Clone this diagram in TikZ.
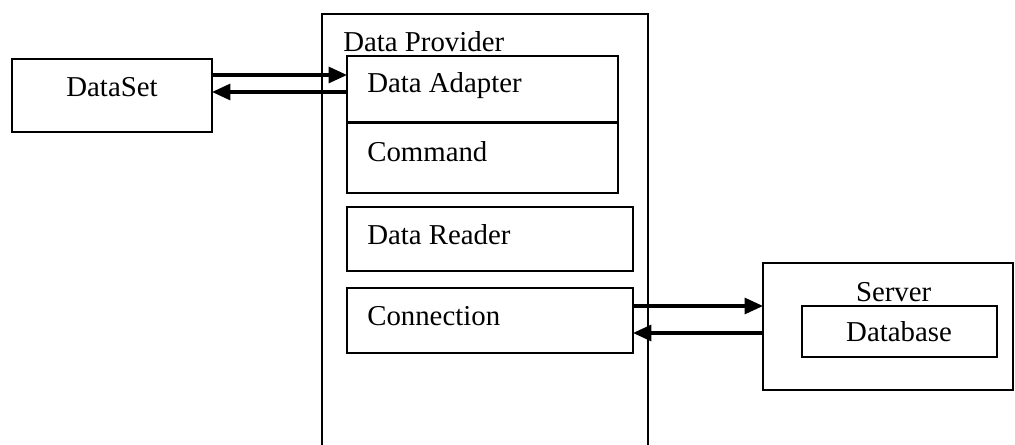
\documentclass[tikz,border=0pt]{standalone}
\usepackage{fontspec}
\setmainfont{Liberation Serif}
\usetikzlibrary{arrows.meta}
\tikzset{
	box/.style={draw, line width=1.3pt, inner sep=0pt, outer sep=0pt, anchor=north west},
	link/.style={-{Triangle[length=0.46cm, width=0.4cm]}, line width=2.2pt},
	caption/.style={inner sep=0pt, anchor=base west},
}
\begin{document}
\begin{tikzpicture}
		\tikzstyle{every node}=[font=\fontsize{20.5pt}{24pt}\selectfont]
		\useasboundingbox (0,0) rectangle (25.375,11.125);
		\clip (0,0) rectangle (25.375,11.125);
		
		% frame of the provider, cut off at the bottom
		\node[box, minimum width=8.15cm, minimum height=11.5cm] (provider) at (8.05,10.775) {};
		\node[caption] (providertext) at (8.575,9.825) {Data Provider};
		
		\node[box, minimum width=5cm, minimum height=1.825cm] (dataset) at (0.3,9.65) {};
		\node[caption, anchor=base] (datasettext) at (2.8,8.7) {DataSet};
		
		\node[box, minimum width=6.775cm, minimum height=1.65cm] (adapter) at (8.675,9.725) {};
		\node[caption] (adaptertext) at (9.175,8.8) {Data Adapter};
		\node[box, minimum width=6.775cm, minimum height=1.75cm] (command) at (8.675,8.05) {};
		\node[caption] (commandtext) at (9.175,7.075) {Command};
		\node[box, minimum width=7.15cm, minimum height=1.6cm] (reader) at (8.675,5.95) {};
		\node[caption] (readertext) at (9.175,5.0) {Data Reader};
		\node[box, minimum width=7.15cm, minimum height=1.625cm] (connection) at (8.675,3.925) {};
		\node[caption] (connectiontext) at (9.175,2.975) {Connection};
		
		\node[box, minimum width=6.25cm, minimum height=3.175cm] (server) at (19.075,4.55) {};
		\node[caption, anchor=base] (servertext) at (22.34,3.575) {Server};
		\node[box, minimum width=4.875cm, minimum height=1.275cm] (database) at (20.05,3.475) {};
		\node[caption, anchor=base] (databasetext) at (22.475,2.575) {Database};
		
		\draw[link] (dataset.east |- 0,9.25) -- (adapter.west |- 0,9.25);
		\draw[link] (adapter.west |- 0,8.825) -- (dataset.east |- 0,8.825);
		\draw[link] (connection.east |- 0,3.475) -- (server.west |- 0,3.475);
		\draw[link] (server.west |- 0,2.8) -- (connection.east |- 0,2.8);
		
	\end{tikzpicture}
\end{document}
